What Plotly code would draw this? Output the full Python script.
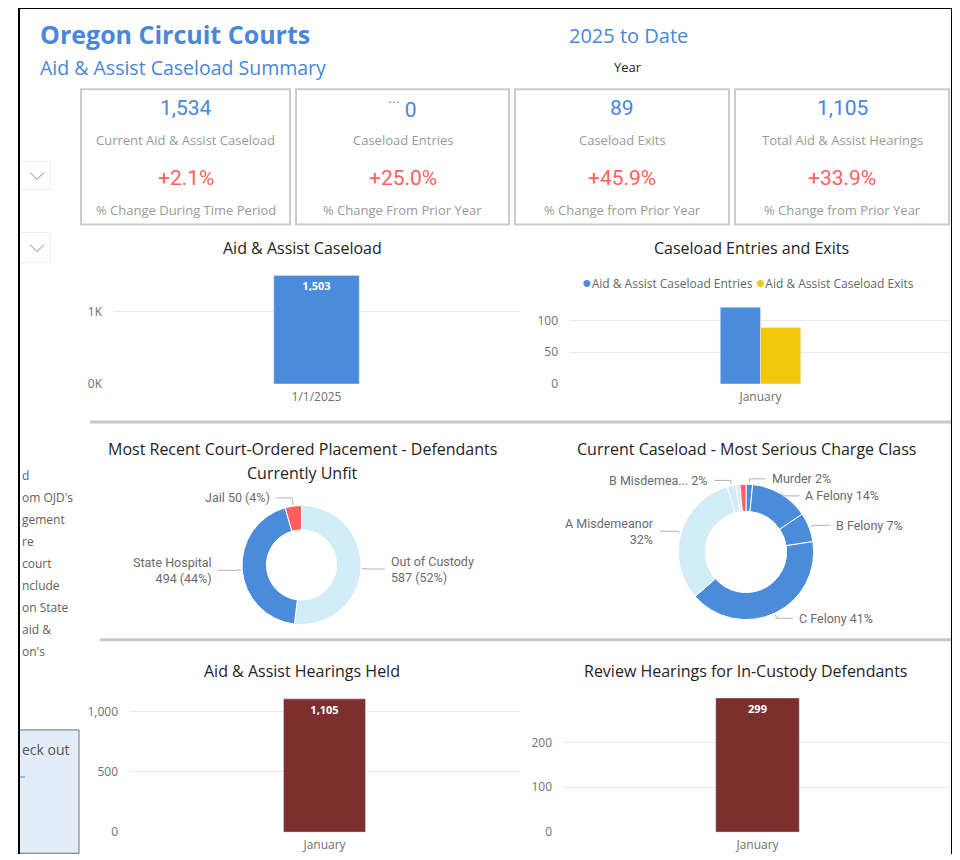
import math
import plotly.graph_objects as go

# page coordinates are 960x860; the browser adds an 8px body margin and the
# photograph is slightly compressed vertically (measured ~0.988)
OFF = 8
SY = 0.988
FW, FH = 944, 854

# ---------------- data ----------------
kpi_values = ["1,534", "<sup>···</sup> 0", "89", "1,105"]
kpi_labels = ["Current Aid & Assist Caseload", "Caseload Entries", "Caseload Exits", "Total Aid & Assist Hearings"]
kpi_changes = ["+2.1%", "+25.0%", "+45.9%", "+33.9%"]
kpi_change_labels = ["% Change During Time Period", "% Change From Prior Year",
                     "% Change from Prior Year", "% Change from Prior Year"]

caseload_dates = ["1/1/2025"]
caseload_values = [1503]

months = ["January"]
entries = [121]
exits = [89]
series_names = ["Aid & Assist Caseload Entries", "Aid & Assist Caseload Exits"]

placement_labels = ["Out of Custody", "State Hospital", "Jail"]
placement_values = [587, 494, 50]

charge_labels = ["Murder", "A Felony", "B Felony", "C Felony", "A Misdemeanor",
                 "B Misdemeanor", "C Misdemeanor", "Unclassified"]
charge_values = [24, 215, 107, 629, 491, 31, 15, 22]
charge_display = ["Murder", "A Felony", "B Felony", "C Felony", "A Misdemeanor<br>",
                  "B Misdemea...", None, None]

hearings_held = [1105]
review_hearings = [299]

side_text = ["d", "om OJD's", "gement", "re", "court", "nclude", "on State", "aid &", "on's"]

# ---------------- style ----------------
FONT = "Segoe UI, Open Sans, sans-serif"
DIN = "Roboto, sans-serif"
BLUE = "#4A8BDB"
LIGHT = "#D2EDF8"
RED = "#FD625E"
YELLOW = "#F2C80F"
MAROON = "#7D2F2E"
TITLE_BLUE = "#4A86D9"
GRAY = "#666666"
TICK = "#707070"


def px(x):
    return min(max((x - OFF) / FW, 0.0), 1.0)


def py(y):
    return min(max(1 - ((y - OFF) / SY) / FH, 0.0), 1.0)


# donut geometry (page pixels)
D1 = dict(x0=242, x1=361, y0=504, y1=623)
D2 = dict(x0=678, x1=814, y0=483, y1=618)

fig = go.Figure()

# Chart 1: Aid & Assist Caseload
fig.add_trace(go.Bar(x=caseload_dates, y=caseload_values, marker_color=BLUE,
                     text=[f"<b>{v:,}</b>" for v in caseload_values], textposition="inside",
                     insidetextanchor="end", textfont=dict(color="white", size=11, family=FONT),
                     xaxis="x", yaxis="y", showlegend=False, width=0.21))

# Chart 2: Entries and Exits
fig.add_trace(go.Bar(x=months, y=entries, name=series_names[0], marker_color=BLUE,
                     xaxis="x2", yaxis="y2", showlegend=False, offsetgroup="a"))
fig.add_trace(go.Bar(x=months, y=exits, name=series_names[1], marker_color=YELLOW,
                     xaxis="x2", yaxis="y2", showlegend=False, offsetgroup="b"))

# Chart 3: placement donut
fig.add_trace(go.Pie(labels=placement_labels, values=placement_values, hole=0.59, sort=False,
                     direction="clockwise", rotation=0,
                     marker=dict(colors=[LIGHT, BLUE, RED], line=dict(color="white", width=1)),
                     textinfo="none", hoverinfo="label+value+percent",
                     domain=dict(x=[px(D1["x0"]), px(D1["x1"])], y=[py(D1["y1"]), py(D1["y0"])]),
                     showlegend=False))

# Chart 4: charge class donut
fig.add_trace(go.Pie(labels=charge_labels, values=charge_values, hole=0.6, sort=False,
                     direction="clockwise", rotation=0,
                     marker=dict(colors=[BLUE, BLUE, BLUE, BLUE, LIGHT, LIGHT, LIGHT, RED],
                                 line=dict(color="white", width=1)),
                     textinfo="none", hoverinfo="label+value+percent",
                     domain=dict(x=[px(D2["x0"]), px(D2["x1"])], y=[py(D2["y1"]), py(D2["y0"])]),
                     showlegend=False))

# Chart 5: hearings held
fig.add_trace(go.Bar(x=months, y=hearings_held, marker_color=MAROON,
                     text=[f"<b>{v:,}</b>" for v in hearings_held], textposition="inside",
                     insidetextanchor="end", textfont=dict(color="white", size=11, family=FONT),
                     xaxis="x3", yaxis="y3", showlegend=False, width=0.21))

# Chart 6: review hearings
fig.add_trace(go.Bar(x=months, y=review_hearings, marker_color=MAROON,
                     text=[f"<b>{v:,}</b>" for v in review_hearings], textposition="inside",
                     insidetextanchor="end", textfont=dict(color="white", size=11, family=FONT),
                     xaxis="x4", yaxis="y4", showlegend=False, width=0.215))

xbase = dict(type="category", showgrid=False, showline=False, zeroline=False, ticks="",
             tickfont=dict(family=FONT, size=12, color=TICK), fixedrange=True, ticklabelstandoff=4)
ybase = dict(showgrid=True, gridcolor="#E9E9E9", gridwidth=1, showline=False, zeroline=False,
             ticks="", tickfont=dict(family=FONT, size=12, color=TICK), fixedrange=True,
             ticklabelstandoff=10)

fig.update_layout(
    width=FW, height=FH, margin=dict(l=0, r=0, t=0, b=0),
    paper_bgcolor="white", plot_bgcolor="white",
    font=dict(family=FONT, color=GRAY),
    bargap=0.79, bargroupgap=0,
    barmode="group", showlegend=False,
    xaxis=dict(xbase, domain=[px(113), px(520)], anchor="y"),
    yaxis=dict(ybase, domain=[py(383), py(262)], range=[0, 1680], tickvals=[0, 1000],
               ticktext=["0K", "1K"], anchor="x"),
    xaxis2=dict(xbase, domain=[px(569), px(960)], anchor="y2"),
    yaxis2=dict(ybase, domain=[py(383), py(295)], range=[0, 139], tickvals=[0, 50, 100], anchor="x2"),
    xaxis3=dict(xbase, domain=[px(129), px(520)], anchor="y3"),
    yaxis3=dict(ybase, domain=[py(830), py(688)], range=[0, 1180], tickvals=[0, 500, 1000],
                tickformat=",", anchor="x3"),
    xaxis4=dict(xbase, domain=[px(563), px(960)], anchor="y4"),
    yaxis4=dict(ybase, domain=[py(830), py(688)], range=[0, 317], tickvals=[0, 100, 200], anchor="x4"),
)

ann = []
shapes = []


def text(x, y, s, size, color, anchor="center", family=FONT, align="center"):
    ann.append(dict(x=px(x), y=py(y), xref="paper", yref="paper", text=s, showarrow=False,
                    xanchor=anchor, yanchor="middle", align=align,
                    font=dict(family=family, size=size, color=color)))


def line(x0, y0, x1, y1, color, width):
    shapes.append(dict(type="line", xref="paper", yref="paper", x0=px(x0), x1=px(x1),
                       y0=py(y0), y1=py(y1), line=dict(color=color, width=width)))


def donut_labels(box, values, texts, elbow=7, run=14):
    """Power BI-style outside labels with leader lines at each slice's mid-angle,
    pushed apart vertically when they would collide."""
    cx = (box["x0"] + box["x1"]) / 2
    cy = (box["y0"] + box["y1"]) / 2
    r = (box["x1"] - box["x0"]) / 2
    total = float(sum(values))
    cum = 0.0
    items = []
    for v, t in zip(values, texts):
        mid = (cum + v / 2) / total
        cum += v
        if t is None:
            continue
        a = 2 * math.pi * mid
        sx, sy = math.sin(a), -math.cos(a)
        p0 = (cx + (r + 1) * sx, cy + (r + 1) * sy)
        p1 = [cx + (r + elbow) * sx, cy + (r + elbow) * sy]
        side = 1 if sx >= 0 else -1
        label = t.format(value=v, pct=round(100 * v / total))
        half = 8 * (label.count("<br>") + 1)
        items.append(dict(p0=p0, p1=p1, side=side, label=label, half=half))
    for side in (1, -1):
        group = sorted([it for it in items if it["side"] == side], key=lambda it: it["p1"][1])
        for prev, cur in zip(group, group[1:]):
            need = prev["p1"][1] + prev["half"] + cur["half"] + 1
            if cur["p1"][1] < need:
                cur["p1"][1] = need
    for it in items:
        p0, p1, side = it["p0"], it["p1"], it["side"]
        p2 = (p1[0] + side * run, p1[1])
        shapes.append(dict(type="path", xref="paper", yref="paper",
                           path=f"M {px(p0[0])} {py(p0[1])} L {px(p1[0])} {py(p1[1])} L {px(p2[0])} {py(p2[1])}",
                           line=dict(color="#B3B3B3", width=1)))
        text(p2[0] + side * 4, p2[1], it["label"], 12.5, "#6B6B6B",
             anchor="left" if side > 0 else "right", family=DIN,
             align="left" if side > 0 else "right")


# header
text(38, 34, "<b>Oregon Circuit Courts</b>", 25, TITLE_BLUE, "left")
text(38, 67, "Aid & Assist Caseload Summary", 19.5, TITLE_BLUE, "left")
text(628, 35, "2025 to Date", 20, TITLE_BLUE)
text(628, 67, "Year", 13, "#222222")

# KPI cards
cards = [(81, 290), (296, 509), (515, 729), (735, 949)]
for i, (x0, x1) in enumerate(cards):
    shapes.append(dict(type="rect", xref="paper", yref="paper", x0=px(x0), x1=px(x1),
                       y0=py(224), y1=py(89), line=dict(color="#CCCCCC", width=2),
                       fillcolor="white", layer="below"))
    cx = (x0 + x1) / 2
    text(cx, 108, kpi_values[i], 21, TITLE_BLUE, family=DIN)
    text(cx, 140, kpi_labels[i], 13, "#9A9A9A")
    text(cx, 178, kpi_changes[i], 21, RED, family=DIN)
    text(cx, 209, kpi_change_labels[i], 13, "#9A9A9A")

# chart titles
text(302, 247, "Aid & Assist Caseload", 16, "#252423")
text(751, 247, "Caseload Entries and Exits", 16, "#252423")
text(302, 448, "Most Recent Court-Ordered Placement - Defendants", 16, "#252423")
text(302, 472, "Currently Unfit", 16, "#252423")
text(746, 448, "Current Caseload - Most Serious Charge Class", 16, "#252423")
text(302, 669, "Aid & Assist Hearings Held", 16, "#252423")
text(746, 669, "Review Hearings for In-Custody Defendants", 16, "#252423")

# legend of chart 2 (circle markers, compact like the reference)
legend_txt = (f'<span style="color:{BLUE}; font-size:16px">●</span>{series_names[0]} '
              f'<span style="color:{YELLOW}; font-size:16px">●</span>{series_names[1]}')
text(748, 281, legend_txt, 12, GRAY)

# donut labels with leader lines
placement_fmt = [n + "<br>{value} ({pct}%)" for n in placement_labels[:2]] + \
                [placement_labels[2] + " {value} ({pct}%)"]
donut_labels(D1, placement_values, placement_fmt, elbow=8, run=16)
charge_fmt = [None if d is None else d + ("" if d.endswith("<br>") else " ") + "{pct}%" for d in charge_display]
donut_labels(D2, charge_values, charge_fmt, elbow=5, run=16)

# clipped side text
for i, s in enumerate(side_text):
    text(20, 474 + i * 22, s, 12, "#605E5C", "left")
text(20, 748, "eck out", 14, "#555555", "left")

# dividers
line(90, 421, 952, 421, "#C8C8C8", 3)
line(100, 638, 952, 638, "#C8C8C8", 3)

# slicer boxes with chevrons
for (y0, y1) in [(161, 189), (232, 262)]:
    shapes.append(dict(type="rect", xref="paper", yref="paper", x0=px(12), x1=px(50), y0=py(y1), y1=py(y0),
                       line=dict(color="#EDEDED", width=1), fillcolor="white"))
    cy = (y0 + y1) / 2
    shapes.append(dict(type="path", xref="paper", yref="paper",
                       path=f"M {px(30)} {py(cy - 3)} L {px(37)} {py(cy + 4)} L {px(44)} {py(cy - 3)}",
                       line=dict(color="#888888", width=1)))

# bottom-left info box
shapes.append(dict(type="rect", xref="paper", yref="paper", x0=px(12), x1=px(79), y0=py(851), y1=py(728),
                   line=dict(color="#707070", width=1), fillcolor="#E3EDF9", layer="below"))
line(19, 775, 25, 775, TITLE_BLUE, 1)

# white strips outside the frame and the outer frame
shapes.append(dict(type="rect", xref="paper", yref="paper", x0=px(953), x1=1.0, y0=0, y1=1,
                   line=dict(width=0), fillcolor="white"))
shapes.append(dict(type="rect", xref="paper", yref="paper", x0=0, x1=px(18), y0=0, y1=1,
                   line=dict(width=0), fillcolor="white"))
shapes.append(dict(type="line", xref="paper", yref="paper", x0=px(19), x1=px(19), y0=0, y1=1,
                   line=dict(color="black", width=2)))
shapes.append(dict(type="line", xref="paper", yref="paper", x0=px(19), x1=px(952), y0=1, y1=1,
                   line=dict(color="black", width=2)))
shapes.append(dict(type="line", xref="paper", yref="paper", x0=px(952), x1=px(952), y0=0, y1=1,
                   line=dict(color="black", width=2)))

fig.update_layout(annotations=ann, shapes=shapes)

fig.write_html("out.html", config={"displayModeBar": False})
